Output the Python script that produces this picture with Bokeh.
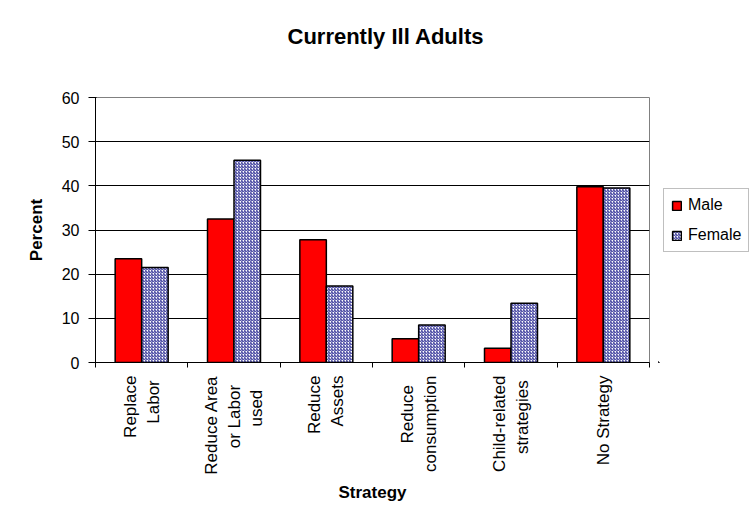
from math import pi
from bokeh.plotting import figure
from bokeh.layouts import row
from bokeh.models import (ColumnDataSource, FixedTicker, Legend, LegendItem, Range1d,
                          LinearAxis)
from bokeh.embed import file_html
from bokeh.resources import INLINE

# ---- data ----
categories = ["Replace\nLabor", "Reduce Area\nor Labor\nused", "Reduce\nAssets",
              "Reduce\nconsumption", "Child-related\nstrategies", "No Strategy"]
male = [23.5, 32.5, 27.8, 5.4, 3.2, 39.8]
female = [21.5, 45.8, 17.3, 8.5, 13.4, 39.5]
y_ticks = [0, 10, 20, 30, 40, 50, 60]
series_names = ["Male", "Female"]

NB = "\u00a0"
# trailing no-break spaces centre the shorter lines of the (right-aligned) vertical labels
pad = [[0, 1], [0, 2, 3], [0, 0], [2, 0], [0, 1], [0]]
tick_labels = ["\n".join(line + NB * n for line, n in zip(lab.split("\n"), pp))
               for lab, pp in zip(categories, pad)]

BAR_W = 0.287
idx = list(range(len(categories)))
centers = [i + 0.5 for i in idx]
src_m = ColumnDataSource(dict(x=[c - BAR_W / 2 for c in centers], top=male))
src_f = ColumnDataSource(dict(x=[c + BAR_W / 2 for c in centers], top=female))

FONT = "Liberation Sans"
MALE_STYLE = dict(fill_color="#ff0000", line_color="black", line_width=1.5)
FEMALE_STYLE = dict(fill_color="white", line_color="black", line_width=1.5,
                    hatch_pattern="right_diagonal_line", hatch_color="#22228f",
                    hatch_scale=3, hatch_weight=1)

p = figure(width=658, height=520, output_backend="svg", toolbar_location=None,
           x_range=Range1d(0, len(categories)), y_range=Range1d(y_ticks[0], y_ticks[-1]),
           min_border_left=95, min_border_right=9, min_border_top=97, min_border_bottom=158)

p.background_fill_color = "white"
p.border_fill_color = "white"
p.outline_line_color = "#808080"
p.outline_line_width = 1

p.vbar(x="x", top="top", width=BAR_W, bottom=0, source=src_m, **MALE_STYLE)
p.vbar(x="x", top="top", width=BAR_W, bottom=0, source=src_f, **FEMALE_STYLE)

xa = p.below[0]
ya = p.left[0]

# invisible spacer axis above the frame (pushes the title up)
spacer = LinearAxis(ticker=FixedTicker(ticks=[]), axis_line_color=None,
                    major_tick_line_color=None, minor_tick_line_color=None,
                    major_tick_out=0, minor_tick_out=0, major_label_standoff=0,
                    axis_label=" ", axis_label_standoff=30,
                    axis_label_text_font_size="10px")
p.add_layout(spacer, "above")

# title
p.title.text = "Currently Ill Adults"
p.title.align = "left"
p.title.offset = 192
p.title.standoff = 10
p.title.text_font = FONT
p.title.text_font_size = "22px"
p.title.text_font_style = "bold"
p.title.text_color = "black"

# grid
p.xgrid.visible = False
p.ygrid.ticker = FixedTicker(ticks=y_ticks[1:-1])
p.ygrid.grid_line_color = "black"
p.ygrid.grid_line_width = 1

# y axis
ya.ticker = FixedTicker(ticks=y_ticks)
ya.axis_line_color = "black"
ya.major_tick_line_color = "black"
ya.major_tick_out = 7
ya.major_tick_in = 1
ya.minor_tick_line_color = None
ya.major_label_standoff = 9
ya.major_label_text_font = FONT
ya.major_label_text_font_size = "16px"
ya.major_label_text_color = "black"
ya.axis_label = "Percent"
ya.axis_label_text_font = FONT
ya.axis_label_text_font_size = "17px"
ya.axis_label_text_font_style = "bold"
ya.axis_label_text_color = "black"
ya.axis_label_standoff = 13

# x axis: ticks at category boundaries, labels at centres
xa.ticker = FixedTicker(ticks=centers, minor_ticks=[0] + [i + 1 for i in idx])
xa.major_label_overrides = {c: lab for c, lab in zip(centers, tick_labels)}
xa.major_label_orientation = pi / 2
xa.axis_line_color = "black"
xa.major_tick_line_color = None
xa.major_tick_out = 0
xa.major_tick_in = 0
xa.minor_tick_line_color = "black"
xa.minor_tick_out = 5
xa.minor_tick_in = 0
xa.major_label_standoff = 8
xa.major_label_text_font = FONT
xa.major_label_text_font_size = "17px"
xa.major_label_text_line_height = 1.2
xa.major_label_text_color = "black"
xa.axis_label = "Strategy"
xa.axis_label_text_font = FONT
xa.axis_label_text_font_size = "17px"
xa.axis_label_text_font_style = "bold"
xa.axis_label_text_color = "black"
xa.axis_label_standoff = 5

# legend, in a narrow companion figure to the right (its bars lie outside its view)
lf = figure(width=96, height=520, output_backend="svg", toolbar_location=None,
            x_axis_location=None, y_axis_location=None,
            x_range=Range1d(100, 101), y_range=Range1d(100, 101), min_border=0)
lf.outline_line_color = None
lf.grid.visible = False
lf.background_fill_color = "white"
lf.border_fill_color = "white"
lm = lf.vbar(x="x", top="top", width=BAR_W, bottom=0, source=src_m, **MALE_STYLE)
lfe = lf.vbar(x="x", top="top", width=BAR_W, bottom=0, source=src_f, **FEMALE_STYLE)

legend = Legend(items=[LegendItem(label=series_names[0], renderers=[lm]),
                       LegendItem(label=series_names[1], renderers=[lfe])],
                location=(5, 110))
legend.border_line_color = "#808080"
legend.border_line_width = 1
legend.background_fill_color = "white"
legend.label_text_font = FONT
legend.label_text_font_size = "16px"
legend.label_text_color = "black"
legend.glyph_width = 11
legend.glyph_height = 11
legend.label_standoff = 6
legend.spacing = 12
legend.padding = 7
legend.margin = 0
lf.add_layout(legend, "center")

layout = row(p, lf)
open("out.html", "w").write(file_html(layout, INLINE))
